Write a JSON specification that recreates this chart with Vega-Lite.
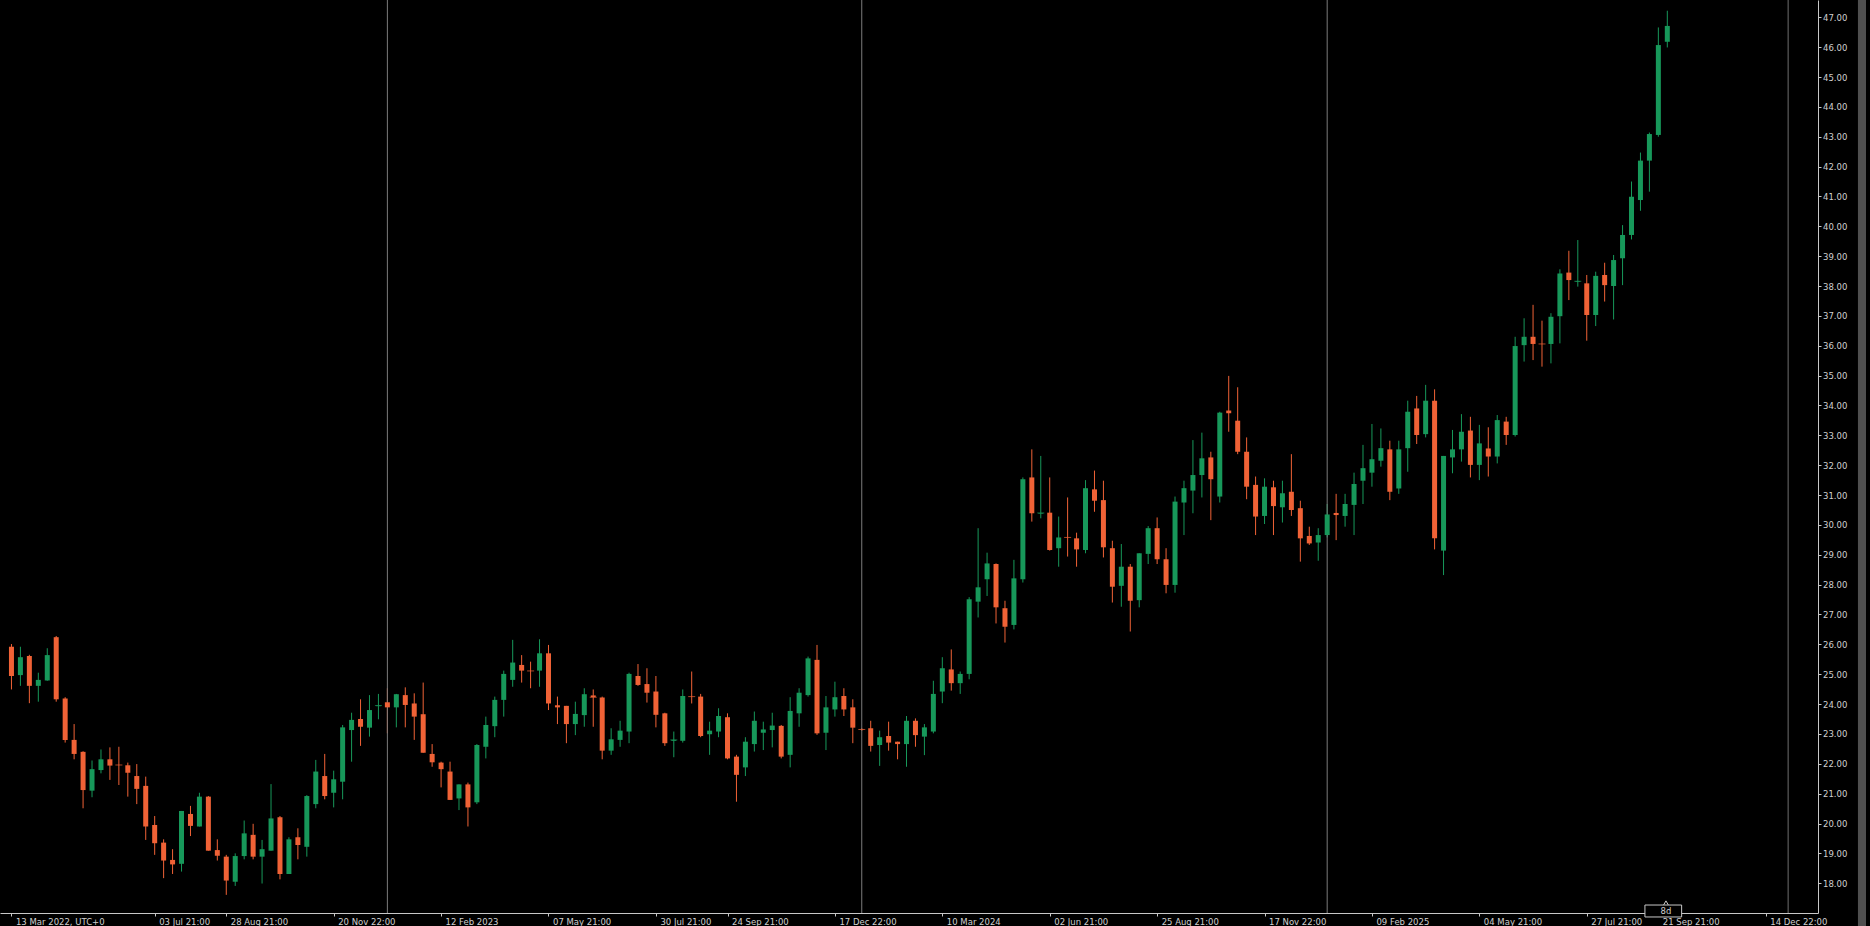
{
"$schema": "https://vega.github.io/schema/vega-lite/v6.json",
"width": 1818, "height": 913,
"autosize": {"type": "none"},
"padding": {"left": 0, "top": 0, "right": 52, "bottom": 13},
"background": "#000000",
"config": {"view": {"stroke": null}, "font": "DejaVu Sans",
"axis": {"title": null, "domainColor": "#c8c8c8", "domainWidth": 1, "tickColor": "#c8c8c8", "tickSize": 3, "labelColor": "#d0d0d0", "labelFont": "DejaVu Sans", "labelFontSize": 8.5, "labelPadding": 1.5, "labelOverlap": false, "labelFlush": false, "labelBound": false, "grid": false}},
"datasets": {
"candles": [
{"w":0,"o":25.92,"h":26.01,"l":24.49,"c":24.94},
{"w":1,"o":24.97,"h":25.92,"l":24.61,"c":25.57},
{"w":2,"o":25.61,"h":25.65,"l":24.03,"c":24.61},
{"w":3,"o":24.61,"h":25.05,"l":24.08,"c":24.81},
{"w":4,"o":24.79,"h":25.87,"l":24.78,"c":25.64},
{"w":5,"o":26.24,"h":26.28,"l":24.08,"c":24.16},
{"w":6,"o":24.19,"h":24.23,"l":22.71,"c":22.80},
{"w":7,"o":22.80,"h":23.33,"l":22.15,"c":22.33},
{"w":8,"o":22.40,"h":22.42,"l":20.51,"c":21.12},
{"w":9,"o":21.10,"h":22.11,"l":20.88,"c":21.82},
{"w":10,"o":21.79,"h":22.48,"l":21.68,"c":22.15},
{"w":11,"o":22.15,"h":22.55,"l":21.46,"c":21.94},
{"w":12,"o":21.96,"h":22.57,"l":21.29,"c":21.96},
{"w":13,"o":21.95,"h":22.04,"l":20.90,"c":21.70},
{"w":14,"o":21.59,"h":21.99,"l":20.65,"c":21.16},
{"w":15,"o":21.26,"h":21.57,"l":19.45,"c":19.90},
{"w":16,"o":19.95,"h":20.25,"l":18.95,"c":19.34},
{"w":17,"o":19.36,"h":19.47,"l":18.17,"c":18.76},
{"w":18,"o":18.78,"h":19.14,"l":18.31,"c":18.63},
{"w":19,"o":18.65,"h":20.42,"l":18.39,"c":20.42},
{"w":20,"o":20.32,"h":20.59,"l":19.58,"c":19.92},
{"w":21,"o":19.90,"h":21.03,"l":19.90,"c":20.90},
{"w":22,"o":20.90,"h":20.92,"l":19.09,"c":19.09},
{"w":23,"o":19.11,"h":19.47,"l":18.76,"c":18.92},
{"w":24,"o":18.89,"h":18.95,"l":17.61,"c":18.09},
{"w":25,"o":18.05,"h":19.00,"l":17.91,"c":18.91},
{"w":26,"o":18.91,"h":20.10,"l":18.80,"c":19.67},
{"w":27,"o":19.62,"h":19.99,"l":18.80,"c":18.89},
{"w":28,"o":18.89,"h":19.45,"l":17.99,"c":19.14},
{"w":29,"o":19.09,"h":21.32,"l":19.09,"c":20.17},
{"w":30,"o":20.21,"h":20.25,"l":18.13,"c":18.31},
{"w":31,"o":18.31,"h":19.54,"l":18.31,"c":19.47},
{"w":32,"o":19.54,"h":19.84,"l":18.80,"c":19.28},
{"w":33,"o":19.22,"h":20.95,"l":18.89,"c":20.92},
{"w":34,"o":20.65,"h":22.13,"l":20.51,"c":21.74},
{"w":35,"o":21.59,"h":22.33,"l":20.81,"c":20.92},
{"w":36,"o":21.03,"h":21.77,"l":20.54,"c":21.48},
{"w":37,"o":21.40,"h":23.30,"l":20.81,"c":23.22},
{"w":38,"o":23.13,"h":23.71,"l":22.07,"c":23.47},
{"w":39,"o":23.50,"h":24.16,"l":22.60,"c":23.24},
{"w":40,"o":23.21,"h":24.30,"l":22.91,"c":23.80},
{"w":41,"o":23.93,"h":24.34,"l":23.49,"c":23.95},
{"w":42,"o":24.06,"h":24.53,"l":23.02,"c":23.89},
{"w":43,"o":23.89,"h":24.34,"l":23.22,"c":24.33},
{"w":44,"o":24.30,"h":24.56,"l":23.22,"c":23.97},
{"w":45,"o":24.02,"h":24.36,"l":22.80,"c":23.58},
{"w":46,"o":23.66,"h":24.72,"l":22.37,"c":22.37},
{"w":47,"o":22.33,"h":22.66,"l":21.90,"c":22.05},
{"w":48,"o":22.04,"h":22.07,"l":21.21,"c":21.82},
{"w":49,"o":21.74,"h":22.07,"l":20.79,"c":20.79},
{"w":50,"o":20.84,"h":21.31,"l":20.45,"c":21.31},
{"w":51,"o":21.31,"h":21.37,"l":19.90,"c":20.54},
{"w":52,"o":20.71,"h":22.66,"l":20.65,"c":22.63},
{"w":53,"o":22.57,"h":23.58,"l":22.18,"c":23.30},
{"w":54,"o":23.26,"h":24.25,"l":22.89,"c":24.14},
{"w":55,"o":24.14,"h":25.12,"l":23.58,"c":25.01},
{"w":56,"o":24.81,"h":26.15,"l":24.58,"c":25.39},
{"w":57,"o":25.31,"h":25.64,"l":24.72,"c":25.12},
{"w":58,"o":25.11,"h":25.42,"l":24.53,"c":25.11},
{"w":59,"o":25.12,"h":26.17,"l":24.58,"c":25.70},
{"w":60,"o":25.70,"h":25.98,"l":23.80,"c":24.02},
{"w":61,"o":23.96,"h":24.25,"l":23.33,"c":23.89},
{"w":62,"o":23.94,"h":23.94,"l":22.69,"c":23.33},
{"w":63,"o":23.33,"h":24.08,"l":22.96,"c":23.67},
{"w":64,"o":23.63,"h":24.53,"l":23.24,"c":24.33},
{"w":65,"o":24.29,"h":24.49,"l":23.24,"c":24.23},
{"w":66,"o":24.22,"h":24.25,"l":22.15,"c":22.44},
{"w":67,"o":22.44,"h":23.19,"l":22.30,"c":22.82},
{"w":68,"o":22.80,"h":23.44,"l":22.57,"c":23.11},
{"w":69,"o":23.08,"h":25.05,"l":22.69,"c":25.01},
{"w":70,"o":24.94,"h":25.34,"l":24.61,"c":24.64},
{"w":71,"o":24.67,"h":25.20,"l":24.05,"c":24.38},
{"w":72,"o":24.42,"h":24.94,"l":23.22,"c":23.64},
{"w":73,"o":23.69,"h":23.71,"l":22.60,"c":22.69},
{"w":74,"o":22.77,"h":23.08,"l":22.22,"c":22.80},
{"w":75,"o":22.77,"h":24.49,"l":22.71,"c":24.27},
{"w":76,"o":24.25,"h":25.09,"l":24.02,"c":24.25},
{"w":77,"o":24.25,"h":24.34,"l":22.89,"c":22.93},
{"w":78,"o":22.99,"h":23.41,"l":22.30,"c":23.11},
{"w":79,"o":23.08,"h":23.86,"l":22.89,"c":23.60},
{"w":80,"o":23.56,"h":23.69,"l":22.15,"c":22.18},
{"w":81,"o":22.24,"h":22.30,"l":20.73,"c":21.63},
{"w":82,"o":21.88,"h":22.89,"l":21.59,"c":22.74},
{"w":83,"o":22.66,"h":23.75,"l":22.41,"c":23.44},
{"w":84,"o":23.04,"h":23.41,"l":22.46,"c":23.15},
{"w":85,"o":23.13,"h":23.71,"l":22.55,"c":23.28},
{"w":86,"o":23.27,"h":23.30,"l":22.18,"c":22.24},
{"w":87,"o":22.30,"h":24.23,"l":21.88,"c":23.77},
{"w":88,"o":23.69,"h":24.53,"l":23.24,"c":24.38},
{"w":89,"o":24.30,"h":25.59,"l":24.25,"c":25.53},
{"w":90,"o":25.48,"h":25.98,"l":22.97,"c":23.02},
{"w":91,"o":23.04,"h":24.27,"l":22.46,"c":23.89},
{"w":92,"o":23.82,"h":24.75,"l":23.58,"c":24.23},
{"w":93,"o":24.27,"h":24.53,"l":23.60,"c":23.82},
{"w":94,"o":23.89,"h":24.16,"l":22.69,"c":23.21},
{"w":95,"o":23.16,"h":23.20,"l":23.10,"c":23.15},
{"w":96,"o":23.19,"h":23.44,"l":22.41,"c":22.60},
{"w":97,"o":22.63,"h":23.11,"l":21.93,"c":22.89},
{"w":98,"o":22.93,"h":23.41,"l":22.44,"c":22.71},
{"w":99,"o":22.74,"h":22.74,"l":22.15,"c":22.66},
{"w":100,"o":22.66,"h":23.60,"l":21.90,"c":23.44},
{"w":101,"o":23.44,"h":23.52,"l":22.57,"c":22.96},
{"w":102,"o":22.91,"h":23.33,"l":22.29,"c":23.22},
{"w":103,"o":23.08,"h":24.78,"l":23.02,"c":24.34},
{"w":104,"o":24.42,"h":25.57,"l":24.03,"c":25.20},
{"w":105,"o":25.16,"h":25.83,"l":24.45,"c":24.70},
{"w":106,"o":24.70,"h":25.09,"l":24.34,"c":25.01},
{"w":107,"o":25.01,"h":27.58,"l":24.83,"c":27.51},
{"w":108,"o":27.43,"h":29.89,"l":26.90,"c":27.91},
{"w":109,"o":28.18,"h":29.07,"l":27.62,"c":28.71},
{"w":110,"o":28.69,"h":28.71,"l":26.70,"c":27.24},
{"w":111,"o":27.21,"h":27.46,"l":26.06,"c":26.59},
{"w":112,"o":26.65,"h":28.83,"l":26.50,"c":28.21},
{"w":113,"o":28.18,"h":31.59,"l":28.07,"c":31.53},
{"w":114,"o":31.59,"h":32.53,"l":30.11,"c":30.39},
{"w":115,"o":30.38,"h":32.31,"l":30.22,"c":30.40},
{"w":116,"o":30.41,"h":31.59,"l":29.14,"c":29.16},
{"w":117,"o":29.22,"h":30.28,"l":28.60,"c":29.58},
{"w":118,"o":29.58,"h":30.92,"l":28.94,"c":29.58},
{"w":119,"o":29.55,"h":29.74,"l":28.60,"c":29.18},
{"w":120,"o":29.16,"h":31.50,"l":29.05,"c":31.23},
{"w":121,"o":31.19,"h":31.82,"l":30.44,"c":30.81},
{"w":122,"o":30.83,"h":31.48,"l":28.91,"c":29.25},
{"w":123,"o":29.22,"h":29.47,"l":27.40,"c":27.93},
{"w":124,"o":27.96,"h":29.36,"l":27.26,"c":28.60},
{"w":125,"o":28.60,"h":28.69,"l":26.43,"c":27.46},
{"w":126,"o":27.48,"h":29.05,"l":27.24,"c":29.05},
{"w":127,"o":29.03,"h":29.96,"l":28.69,"c":29.89},
{"w":128,"o":29.89,"h":30.25,"l":28.69,"c":28.85},
{"w":129,"o":28.85,"h":29.22,"l":27.71,"c":27.99},
{"w":130,"o":27.99,"h":30.95,"l":27.73,"c":30.78},
{"w":131,"o":30.75,"h":31.48,"l":29.66,"c":31.23},
{"w":132,"o":31.15,"h":32.84,"l":30.39,"c":31.67},
{"w":133,"o":31.67,"h":33.09,"l":30.92,"c":32.23},
{"w":134,"o":32.26,"h":32.45,"l":30.16,"c":31.53},
{"w":135,"o":30.95,"h":33.79,"l":30.75,"c":33.76},
{"w":136,"o":33.83,"h":34.99,"l":33.12,"c":33.74},
{"w":137,"o":33.49,"h":34.61,"l":32.37,"c":32.45},
{"w":138,"o":32.45,"h":32.93,"l":30.86,"c":31.28},
{"w":139,"o":31.34,"h":31.62,"l":29.66,"c":30.28},
{"w":140,"o":30.30,"h":31.56,"l":30.03,"c":31.28},
{"w":141,"o":31.26,"h":31.48,"l":29.66,"c":30.63},
{"w":142,"o":30.59,"h":31.48,"l":30.08,"c":31.06},
{"w":143,"o":31.11,"h":32.37,"l":30.30,"c":30.50},
{"w":144,"o":30.56,"h":30.81,"l":28.77,"c":29.55},
{"w":145,"o":29.63,"h":29.94,"l":29.33,"c":29.38},
{"w":146,"o":29.41,"h":29.89,"l":28.80,"c":29.66},
{"w":147,"o":29.66,"h":30.70,"l":29.58,"c":30.35},
{"w":148,"o":30.40,"h":31.04,"l":29.49,"c":30.33},
{"w":149,"o":30.30,"h":31.04,"l":29.94,"c":30.70},
{"w":150,"o":30.67,"h":31.75,"l":29.66,"c":31.37},
{"w":151,"o":31.48,"h":32.68,"l":30.70,"c":31.90},
{"w":152,"o":31.75,"h":33.38,"l":31.28,"c":32.20},
{"w":153,"o":32.15,"h":33.23,"l":31.95,"c":32.57},
{"w":154,"o":32.53,"h":32.82,"l":30.83,"c":31.11},
{"w":155,"o":31.22,"h":32.82,"l":31.04,"c":32.53},
{"w":156,"o":32.57,"h":34.16,"l":31.78,"c":33.79},
{"w":157,"o":33.90,"h":34.32,"l":32.71,"c":33.01},
{"w":158,"o":33.04,"h":34.69,"l":32.93,"c":34.16},
{"w":159,"o":34.16,"h":34.54,"l":29.18,"c":29.55},
{"w":160,"o":29.14,"h":32.31,"l":28.32,"c":32.31},
{"w":161,"o":32.26,"h":33.18,"l":31.73,"c":32.53},
{"w":162,"o":32.53,"h":33.71,"l":32.12,"c":33.12},
{"w":163,"o":33.16,"h":33.62,"l":31.59,"c":32.01},
{"w":164,"o":32.01,"h":33.35,"l":31.50,"c":32.73},
{"w":165,"o":32.56,"h":33.27,"l":31.62,"c":32.29},
{"w":166,"o":32.29,"h":33.68,"l":32.06,"c":33.51},
{"w":167,"o":33.46,"h":33.62,"l":32.68,"c":33.01},
{"w":168,"o":33.01,"h":36.30,"l":32.96,"c":35.99},
{"w":169,"o":36.02,"h":36.92,"l":35.47,"c":36.30},
{"w":170,"o":36.30,"h":37.37,"l":35.52,"c":36.06},
{"w":171,"o":36.06,"h":36.84,"l":35.30,"c":36.06},
{"w":172,"o":36.06,"h":37.09,"l":35.41,"c":36.97},
{"w":173,"o":36.99,"h":38.56,"l":36.08,"c":38.42},
{"w":174,"o":38.45,"h":39.18,"l":37.53,"c":38.20},
{"w":175,"o":38.14,"h":39.54,"l":37.98,"c":38.16},
{"w":176,"o":38.09,"h":38.37,"l":36.17,"c":37.03},
{"w":177,"o":37.03,"h":38.48,"l":36.66,"c":38.34},
{"w":178,"o":38.37,"h":38.78,"l":37.48,"c":38.03},
{"w":179,"o":38.00,"h":39.04,"l":36.88,"c":38.87},
{"w":180,"o":38.93,"h":40.04,"l":38.03,"c":39.71},
{"w":181,"o":39.71,"h":41.50,"l":39.56,"c":40.99},
{"w":182,"o":40.88,"h":42.47,"l":40.52,"c":42.20},
{"w":183,"o":42.20,"h":43.14,"l":41.16,"c":43.09},
{"w":184,"o":43.06,"h":46.66,"l":43.00,"c":46.07},
{"w":185,"o":46.18,"h":47.22,"l":45.99,"c":46.71}
],
"seps": [{"year": 2023, "w": 42}, {"year": 2024, "w": 95}, {"year": 2025, "w": 147}],
"shift": [{"w": 198.5}],
"timer": [{"w": 184.85, "label": "8d"}]
},
"layer": [
{
"data": {"name": "candles"},
"mark": {"type": "rule", "strokeWidth": 1},
"encoding": {
"x": {"field": "w", "type": "quantitative", "scale": {"domain": [-0.7222, 201.2778], "nice": false, "zero": false},
"axis": {"title": null, "orient": "bottom", "values": [0,16,24,36,48,60,72,80,92,104,116,128,140,152,164,176,184,196], "labelAlign": "left", "labelBaseline": "top", "labelOffset": 4, "labelOverlap": false, "labelFlush": false, "labelBound": false,
"labelExpr": "datum.value==0?'13 Mar 2022, UTC+0':datum.value==16?'03 Jul 21:00':datum.value==24?'28 Aug 21:00':datum.value==36?'20 Nov 22:00':datum.value==48?'12 Feb 2023':datum.value==60?'07 May 21:00':datum.value==72?'30 Jul 21:00':datum.value==80?'24 Sep 21:00':datum.value==92?'17 Dec 22:00':datum.value==104?'10 Mar 2024':datum.value==116?'02 Jun 21:00':datum.value==128?'25 Aug 21:00':datum.value==140?'17 Nov 22:00':datum.value==152?'09 Feb 2025':datum.value==164?'04 May 21:00':datum.value==176?'27 Jul 21:00':datum.value==184?'21 Sep 21:00':datum.value==196?'14 Dec 22:00':''"}},
"y": {"field": "l", "type": "quantitative", "scale": {"domain": [17.003, 47.579], "nice": false, "zero": false},
"axis": {"title": null, "orient": "right", "values": [18,19,20,21,22,23,24,25,26,27,28,29,30,31,32,33,34,35,36,37,38,39,40,41,42,43,44,45,46,47], "tickCount": 31, "format": ".2f", "labelAlign": "left", "labelBaseline": "middle", "labelOverlap": false, "labelFlush": false, "labelBound": false}},
"y2": {"field": "h"},
"color": {"condition": {"test": "datum.c > datum.o", "value": "#17985a"}, "value": "#f06236"}
}
},
{
"data": {"name": "seps"},
"mark": {"type": "rule", "color": "#7c7c7c", "strokeWidth": 1},
"encoding": {"x": {"field": "w", "type": "quantitative", "title": null}}
},
{
"data": {"name": "shift"},
"mark": {"type": "rule", "color": "#6e6e6e", "strokeWidth": 1},
"encoding": {"x": {"field": "w", "type": "quantitative", "title": null}}
},
{
"data": {"name": "candles"},
"mark": {"type": "bar", "size": 5},
"encoding": {
"x": {"field": "w", "type": "quantitative", "title": null},
"y": {"field": "o", "type": "quantitative", "title": null, "axis": {"title": null, "orient": "right", "values": [18,19,20,21,22,23,24,25,26,27,28,29,30,31,32,33,34,35,36,37,38,39,40,41,42,43,44,45,46,47], "tickCount": 31, "format": ".2f", "labelAlign": "left", "labelBaseline": "middle", "labelOverlap": false, "labelFlush": false, "labelBound": false}},
"y2": {"field": "c"},
"color": {"condition": {"test": "datum.c > datum.o", "value": "#17985a"}, "value": "#f06236"}
}
},
{
"data": {"name": "candles"},
"transform": [{"filter": "abs(datum.o - datum.c) < 0.06"}],
"mark": {"type": "tick", "orient": "horizontal", "thickness": 1, "size": 7},
"encoding": {
"x": {"field": "w", "type": "quantitative", "title": null},
"y": {"field": "c", "type": "quantitative", "title": null, "axis": {"title": null, "orient": "right", "values": [18,19,20,21,22,23,24,25,26,27,28,29,30,31,32,33,34,35,36,37,38,39,40,41,42,43,44,45,46,47], "tickCount": 31, "format": ".2f", "labelAlign": "left", "labelBaseline": "middle", "labelOverlap": false, "labelFlush": false, "labelBound": false}},
"color": {"condition": {"test": "datum.c > datum.o", "value": "#17985a"}, "value": "#f06236"}
}
},
{
"data": {"name": "timer"},
"mark": {"type": "point", "shape": "triangle-up", "size": 30, "filled": true, "fill": "#000000", "stroke": "#c8c8c8", "strokeWidth": 1, "opacity": 1},
"encoding": {
"x": {"field": "w", "type": "quantitative", "title": null},
"y": {"datum": 17.33, "type": "quantitative", "title": null, "axis": {"title": null, "orient": "right", "values": [18,19,20,21,22,23,24,25,26,27,28,29,30,31,32,33,34,35,36,37,38,39,40,41,42,43,44,45,46,47], "tickCount": 31, "format": ".2f", "labelAlign": "left", "labelBaseline": "middle", "labelOverlap": false, "labelFlush": false, "labelBound": false}}
}
},
{
"data": {"name": "timer"},
"mark": {"type": "rect", "fill": "#000000", "stroke": "#c8c8c8", "strokeWidth": 1},
"encoding": {
"x": {"datum": 182.5, "type": "quantitative", "title": null},
"x2": {"datum": 186.6},
"y": {"datum": 17.27, "type": "quantitative", "title": null, "axis": {"title": null, "orient": "right", "values": [18,19,20,21,22,23,24,25,26,27,28,29,30,31,32,33,34,35,36,37,38,39,40,41,42,43,44,45,46,47], "tickCount": 31, "format": ".2f", "labelAlign": "left", "labelBaseline": "middle", "labelOverlap": false, "labelFlush": false, "labelBound": false}},
"y2": {"datum": 16.87}
}
},
{
"data": {"name": "timer"},
"mark": {"type": "text", "fontSize": 8.5, "font": "DejaVu Sans", "color": "#d0d0d0", "align": "center", "baseline": "middle"},
"encoding": {
"x": {"field": "w", "type": "quantitative", "title": null},
"y": {"datum": 17.07, "type": "quantitative", "title": null, "axis": {"title": null, "orient": "right", "values": [18,19,20,21,22,23,24,25,26,27,28,29,30,31,32,33,34,35,36,37,38,39,40,41,42,43,44,45,46,47], "tickCount": 31, "format": ".2f", "labelAlign": "left", "labelBaseline": "middle", "labelOverlap": false, "labelFlush": false, "labelBound": false}},
"text": {"field": "label"}
}
},
{
"data": {"name": "shift"},
"mark": {"type": "rect", "fill": "#4f4f4f"},
"encoding": {
"x": {"datum": 206.3, "type": "quantitative", "title": null},
"x2": {"datum": 207.2},
"y": {"datum": 47.6, "type": "quantitative", "title": null, "axis": {"title": null, "orient": "right", "values": [18,19,20,21,22,23,24,25,26,27,28,29,30,31,32,33,34,35,36,37,38,39,40,41,42,43,44,45,46,47], "tickCount": 31, "format": ".2f", "labelAlign": "left", "labelBaseline": "middle", "labelOverlap": false, "labelFlush": false, "labelBound": false}},
"y2": {"datum": 16.5}
}
}
]
}
